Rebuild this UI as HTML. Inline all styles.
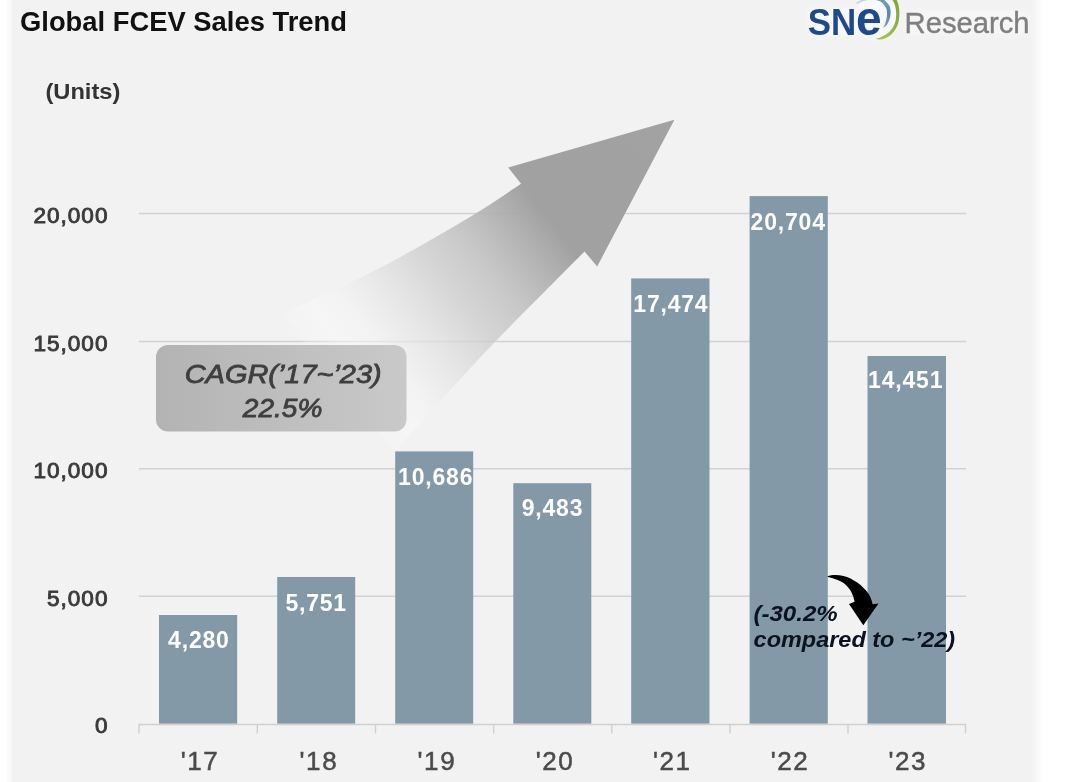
<!DOCTYPE html>
<html lang="en">
<head>
<meta charset="utf-8">
<title>Global FCEV Sales Trend</title>
<style>
  html, body { margin: 0; padding: 0; background: #ffffff; }
  body { width: 1080px; height: 782px; overflow: hidden; }
  svg { display: block; }
  text { font-family: "Liberation Sans", sans-serif; }
  .val { font-weight: bold; font-size: 23px; fill: #ffffff; text-anchor: middle; letter-spacing: 0.8px; }
  .ylab { font-size: 22.6px; fill: #3a3a3a; stroke: #3a3a3a; stroke-width: 0.9px; text-anchor: end; letter-spacing: 1px; }
  .xlab { font-size: 26px; fill: #4b4b4b; text-anchor: middle; stroke: #4b4b4b; stroke-width: 0.5px; letter-spacing: 1.6px; }
  .grid { stroke: #d2d2d2; stroke-width: 1.6; }
  .bar { fill: #8399a7; }
</style>
</head>
<body>
<svg width="1080" height="782" viewBox="0 0 1080 782">
  <defs>
    <linearGradient id="bgL" x1="0" x2="1" y1="0" y2="0">
      <stop offset="0" stop-color="#ffffff"/>
      <stop offset="0.2" stop-color="#fbfbfb"/>
      <stop offset="0.72" stop-color="#f9f9f9"/>
      <stop offset="0.92" stop-color="#f0f0f0"/>
      <stop offset="1" stop-color="#f1f1f1"/>
    </linearGradient>
    <linearGradient id="bgR" x1="0" x2="1" y1="0" y2="0">
      <stop offset="0" stop-color="#f2f2f2"/>
      <stop offset="1" stop-color="#ffffff"/>
    </linearGradient>
    <linearGradient id="arrowG" gradientUnits="userSpaceOnUse" x1="674.4" y1="119.7" x2="336.4" y2="385.9">
      <stop offset="0" stop-color="#a2a2a2" stop-opacity="1"/>
      <stop offset="0.372" stop-color="#a1a1a1" stop-opacity="1"/>
      <stop offset="0.465" stop-color="#afafaf" stop-opacity="0.9"/>
      <stop offset="0.558" stop-color="#bebebe" stop-opacity="0.8"/>
      <stop offset="0.651" stop-color="#cacaca" stop-opacity="0.72"/>
      <stop offset="0.767" stop-color="#e1e1e1" stop-opacity="0.65"/>
      <stop offset="0.856" stop-color="#f2f2f2" stop-opacity="0.6"/>
      <stop offset="0.93" stop-color="#fbfbfb" stop-opacity="0.45"/>
      <stop offset="1" stop-color="#fcfcfc" stop-opacity="0.12"/>
    </linearGradient>
    <filter id="halo" x="-10%" y="-40%" width="120%" height="180%"><feGaussianBlur stdDeviation="2.2"/></filter>
    <linearGradient id="boxG" x1="0" x2="1" y1="0" y2="0">
      <stop offset="0" stop-color="#b3b3b3"/>
      <stop offset="1" stop-color="#c9c9c9"/>
    </linearGradient>
    <linearGradient id="blueC" x1="0" x2="0" y1="0" y2="1">
      <stop offset="0" stop-color="#7e9dbd"/>
      <stop offset="0.55" stop-color="#5a83b3"/>
      <stop offset="1" stop-color="#86a2c0"/>
    </linearGradient>
    <linearGradient id="greenC" x1="0" x2="0" y1="0" y2="1">
      <stop offset="0" stop-color="#86a63a"/>
      <stop offset="0.6" stop-color="#8cae3c"/>
      <stop offset="1" stop-color="#a3c552"/>
    </linearGradient>
  </defs>

  <!-- background -->
  <rect x="0" y="0" width="1080" height="782" fill="#ffffff"/>
  <rect x="12" y="0" width="1021" height="782" fill="#f2f2f2"/>
  <rect x="6" y="0" width="7" height="782" fill="url(#bgL)"/>
  <rect x="1032" y="0" width="11" height="782" fill="url(#bgR)"/>

  <!-- grid lines -->
  <line class="grid" x1="139" x2="966" y1="213.5" y2="213.5"/>
  <line class="grid" x1="139" x2="966" y1="341.5" y2="341.5"/>
  <line class="grid" x1="139" x2="966" y1="468.8" y2="468.8"/>
  <line class="grid" x1="139" x2="966" y1="596.2" y2="596.2"/>

  <!-- axis -->
  <path d="M139 733.5V724.5H965.5V733.5M257.3 724.5V733.5M375.5 724.5V733.5M493.7 724.5V733.5M611.8 724.5V733.5M730 724.5V733.5M848 724.5V733.5" fill="none" stroke="#d0d0d0" stroke-width="1.4"/>

  <!-- big trend arrow -->
  <path d="M674.4 119.7 L508.2 167.5 L521.1 183.8 C513.9 188.5 496.1 201.0 477.8 212.2 C459.5 223.4 429.6 240.7 411.1 251.1 C392.6 261.5 383.4 266.1 366.7 274.4 C350.0 282.7 325.4 294.4 311.1 301.1 C296.8 307.8 286.0 312.3 281.0 314.5 L395 452 C401.4 444.8 416.6 427.1 433.2 408.8 C449.8 390.5 476.8 361.1 494.6 342.3 C512.4 323.6 525.0 311.4 540.0 296.3 C555.0 281.2 577.1 259.0 584.5 251.5 L597.2 266.5Z" fill="url(#arrowG)"/>

  <!-- bars -->
  <rect class="bar" x="159" y="615" width="78.2" height="108.6"/>
  <rect class="bar" x="277.2" y="577" width="78" height="146.6"/>
  <rect class="bar" x="395.2" y="451.4" width="78" height="272.2"/>
  <rect class="bar" x="513.3" y="483.2" width="78" height="240.4"/>
  <rect class="bar" x="631.2" y="278.4" width="78.3" height="445.2"/>
  <rect class="bar" x="749.6" y="196.1" width="78.2" height="527.5"/>
  <rect class="bar" x="867.5" y="356" width="78.5" height="367.6"/>

  <!-- value labels -->
  <text class="val" x="198.9" y="647.6">4,280</text>
  <text class="val" x="316.2" y="611">5,751</text>
  <text class="val" x="435.7" y="485">10,686</text>
  <text class="val" x="552.5" y="515.7">9,483</text>
  <text class="val" x="670.9" y="311.7">17,474</text>
  <text class="val" x="788.2" y="229.8">20,704</text>
  <text class="val" x="905.7" y="388.4">14,451</text>

  <!-- y axis labels -->
  <text class="ylab" x="108.5" y="222.5">20,000</text>
  <text class="ylab" x="108.5" y="350.5">15,000</text>
  <text class="ylab" x="108.5" y="478">10,000</text>
  <text class="ylab" x="108.5" y="605.5">5,000</text>
  <text class="ylab" x="108.5" y="733">0</text>

  <!-- x axis labels -->
  <text class="xlab" x="200" y="770">'17</text>
  <text class="xlab" x="318.9" y="770">'18</text>
  <text class="xlab" x="436.9" y="770">'19</text>
  <text class="xlab" x="555" y="770">'20</text>
  <text class="xlab" x="672.3" y="770">'21</text>
  <text class="xlab" x="790" y="770">'22</text>
  <text class="xlab" x="907.8" y="770">'23</text>

  <!-- title and units -->
  <text x="20" y="31.3" font-size="28.5" font-weight="bold" fill="#111111" textLength="327" lengthAdjust="spacingAndGlyphs">Global FCEV Sales Trend</text>
  <text x="45.4" y="99" font-size="22.5" font-weight="bold" fill="#333333" textLength="75" lengthAdjust="spacingAndGlyphs">(Units)</text>

  <!-- CAGR box -->
  <rect x="156" y="345" width="250.5" height="86.6" rx="12" ry="12" fill="url(#boxG)"/>
  <text x="283.2" y="383" font-size="25.5" font-style="italic" fill="#3f3f3f" stroke="#3f3f3f" stroke-width="0.8" text-anchor="middle" textLength="197" lengthAdjust="spacingAndGlyphs">CAGR(’17~’23)</text>
  <text x="282.6" y="417" font-size="25.5" font-style="italic" fill="#3f3f3f" stroke="#3f3f3f" stroke-width="0.8" text-anchor="middle" textLength="79.5" lengthAdjust="spacingAndGlyphs">22.5%</text>

  <!-- annotation -->
  <path d="M827.1 576.6 C832 574.6 838 574.8 843.5 576 C853 578.3 862.5 585.5 867.8 592.7 C870.5 596.5 872 600.3 872.6 604.3 L878.5 603.4 L863.3 625.2 L849 603.9 L854.6 601.8 C853.8 598 852.8 594.5 850.8 591 C848.8 587.8 846.5 585.3 843.6 582.9 C840.8 580.9 838 579.9 834.7 578.9 C832 578.1 829.8 577.6 827.1 576.6 Z" fill="#000000"/>
  <text x="753.4" y="620.8" font-size="21.5" font-weight="bold" font-style="italic" fill="#0b1220" textLength="84.3" lengthAdjust="spacingAndGlyphs">(-30.2%</text>
  <text x="753.6" y="647" font-size="21.5" font-weight="bold" font-style="italic" fill="#0b1220" textLength="201.5" lengthAdjust="spacingAndGlyphs">compared to ~’22)</text>

  <!-- logo -->
  <g filter="url(#halo)" opacity="0.75">
    <rect x="808" y="9" width="72" height="27" rx="6" fill="#fafcff"/>
    <rect x="905" y="10" width="124" height="24" rx="6" fill="#f8f8f8"/>
    <circle cx="877" cy="17" r="22" fill="#fafcff"/>
  </g>
  <path d="M856.6 3.2 Q866 -2.6 878 -0.6" fill="none" stroke="#c3d3e3" stroke-width="1.6"/>
  <path d="M880.1 -2.1 C880.8 -1.8 882.9 -1.3 884.4 0.0 C885.9 1.3 888.2 3.6 889.2 5.4 C890.2 7.2 890.4 9.0 890.6 10.7 C890.7 12.5 890.6 14.3 890.3 16.1 C890.0 17.9 889.4 19.9 888.7 21.5 C888.0 23.1 887.0 24.7 886.0 25.8 C885.0 26.9 883.3 27.6 882.8 27.9 C883.1 27.3 884.3 25.7 884.9 24.2 C885.5 22.6 886.2 20.6 886.5 18.8 C886.9 17.0 887.2 15.2 887.1 13.4 C887.0 11.6 886.8 9.8 886.0 8.1 C885.2 6.3 883.8 4.0 882.2 2.7 C880.6 1.3 877.9 0.8 876.3 0.0 C874.7 -0.8 873.2 -1.8 872.6 -2.1Z" fill="url(#blueC)"/>
  <path d="M895.7 -2.1 C895.8 -1.8 896.2 -1.3 896.7 0.0 C897.2 1.3 898.2 3.1 898.6 5.4 C899.1 7.6 899.4 10.7 899.4 13.4 C899.4 16.1 899.2 18.9 898.6 21.5 C898.0 24.1 897.0 26.8 895.7 29.0 C894.4 31.2 892.6 33.3 890.8 34.9 C889.0 36.5 886.7 37.6 884.9 38.4 C883.1 39.2 881.6 39.4 880.1 39.5 C878.6 39.6 876.5 39.0 875.8 38.9 C876.9 38.5 880.3 37.5 882.2 36.5 C884.2 35.6 885.9 34.7 887.6 33.3 C889.3 31.9 891.1 29.9 892.4 27.9 C893.7 26.0 894.8 23.9 895.4 21.5 C896.0 19.1 896.2 16.1 896.2 13.4 C896.1 10.7 895.7 7.6 895.1 5.4 C894.5 3.1 893.1 1.3 892.4 0.0 C891.8 -1.3 891.3 -1.8 891.1 -2.1Z" fill="url(#greenC)"/>
  <text x="807.8" y="35" font-size="36.5" font-weight="bold" fill="#1e4a8c" textLength="48.5" lengthAdjust="spacingAndGlyphs">SN</text>
  <text x="856" y="35.4" font-size="47.5" font-weight="bold" fill="#1e4a8c" textLength="25.6" lengthAdjust="spacingAndGlyphs">e</text>
  <text x="904.6" y="32.6" font-size="30" fill="#7f7f7f" stroke="#7f7f7f" stroke-width="0.4" textLength="125" lengthAdjust="spacingAndGlyphs">Research</text>
</svg>
</body>
</html>
